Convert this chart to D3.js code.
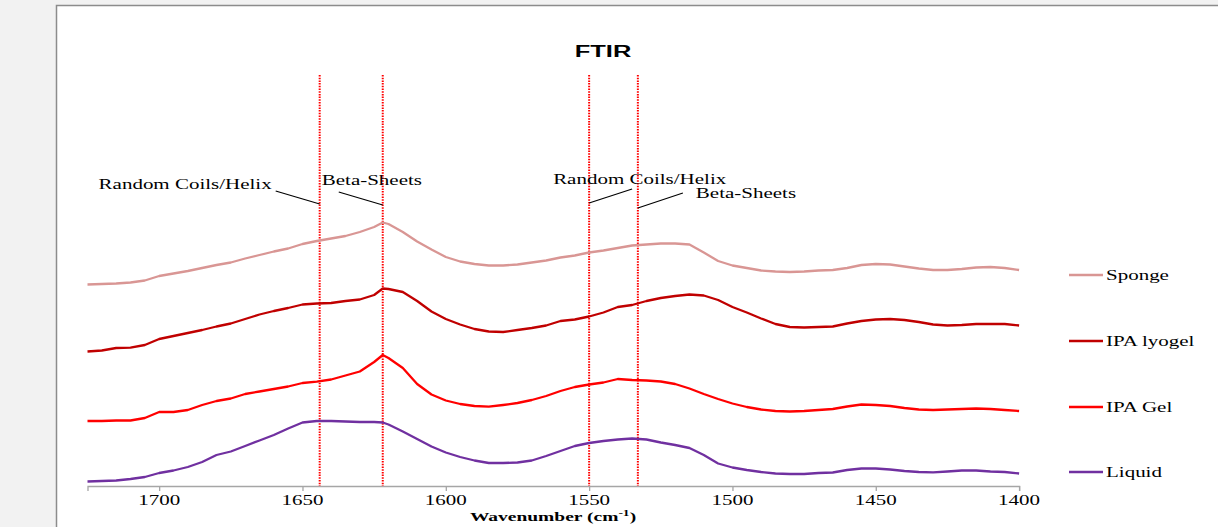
<!DOCTYPE html>
<html>
<head>
<meta charset="utf-8">
<script src="https://cdn.jsdelivr.net/npm/d3@7"></script>
<style>
  body { margin: 0; background: #f2f2f2; }
  svg { display: block; }
</style>
</head>
<body>
<svg id="chart"></svg>
<script>
// wavenumber grid (cm-1)
var wavenumbers = [1725,1720,1715,1710,1705,1700,1695,1690,1685,1680,1675,1670,1665,1660,1655,1650,1645,1640,1635,1630,1625,1622,1620,1615,1610,1605,1600,1595,1590,1585,1580,1575,1570,1565,1560,1555,1550,1545,1540,1535,1530,1525,1520,1515,1510,1505,1500,1495,1490,1485,1480,1475,1470,1465,1460,1455,1450,1445,1440,1435,1430,1425,1420,1415,1410,1405,1400];

// offset absorbance (a.u. x100), one value per wavenumber
var sponge = [201.5,202,202.5,203.5,205.5,210,212.5,215,218,221,223.5,227.5,231,234.5,237.5,242,245,247.5,250,254,259,263.5,262,254,244.5,236.5,229,224.5,222,220.5,220.5,221.5,223.5,225.5,228.5,230.5,233.5,235.5,238,240.5,241.5,242.5,242.5,241.5,233.5,225,220.5,218,215.5,214.5,214,214.5,215.5,216,218,221,222,221.5,219.5,217.5,216,216,217,218.5,219,218,216];
var ipaLyogel = [134.5,135.5,138,138.3,141,147,150,153,156,159.5,162.5,167,171.5,175,178,181.5,182.5,183,185,186.5,191,197.5,197,194,185,174.5,167,161.5,157,154.5,154,156,158,160.5,165,166.5,169.5,173.5,179,181,185,188,190,191.5,190.5,186,179,173.5,167.5,162,159,158.5,159,159.5,162.5,165,166.5,167,166,164,161.5,160.5,161,162,162,162,160.5];
var ipaGel = [65,65,65.5,65.5,68,74,74,76,81,85,87.5,92,94.5,97,99.5,103,104.3,106.5,110.5,114.5,124,131,128,118,102,91.5,85.5,82,80,79.3,81,83,86,90,95,99,101.5,103.5,107,106,105.5,104.5,102,97.5,92,87,82.5,79,76.5,75,74.5,75,76,77,79.5,81.5,81,80,78,76.5,76,76.5,77,77.5,77,76,75];
var liquid = [4.5,5,5.5,7,9,13,15.5,19,24,31,34.5,40,45.5,51,57.5,63.5,65,65,64.5,64,64,63.5,61.5,54.5,47,39.5,33.5,29,25.5,23,23,23.5,25.5,30,35,40,43,45,46.5,47.5,46.5,43.5,41,38,31,22.5,18.5,16,14,12.5,12,12,13,13.5,16,17.5,17.5,16.5,15,14,13.7,14.5,15.5,15.5,14.5,14,12.5];

var seriesNames = ["Sponge", "IPA lyogel", "IPA Gel", "Liquid"];
var seriesValues = [sponge, ipaLyogel, ipaGel, liquid];
var colors = ["#d99694", "#c00000", "#ff0000", "#7030a0"];
var xTicks = [1700, 1650, 1600, 1550, 1500, 1450, 1400];

// band markers and their labels
var markers = [1644, 1622, 1550, 1533];
var markerLabels = ["Random Coils/Helix", "Beta-Sheets", "Random Coils/Helix", "Beta-Sheets"];

var W = 1218, H = 527;
var margins = { top: 66, left: 87.5, bottom: 41, right: 198.9 };
var stretch = 1.5; // text in the picture is drawn wide

var svg = d3.select("#chart").attr("width", W).attr("height", H);

// white chart area with grey frame
svg.append("rect")
  .attr("x", 56.5).attr("y", 5.5)
  .attr("width", 1300).attr("height", 600)
  .attr("fill", "#ffffff").attr("stroke", "#8c8c8c").attr("stroke-width", 1.5);

var xScale = d3.scaleLinear().domain([1725, 1400]).range([margins.left, W - margins.right]);
var yScale = d3.scaleLinear().domain([0, 420]).range([H - margins.bottom, margins.top]);

// wide text helper
function wideText(parent, x, y, str, size, weight, anchor, family) {
  return parent.append("g")
    .attr("transform", "translate(" + x + "," + y + ") scale(" + stretch + ",1)")
    .append("text")
    .attr("font-family", family || "'Liberation Serif', 'Times New Roman', serif")
    .attr("font-size", size)
    .attr("font-weight", weight || "normal")
    .attr("text-anchor", anchor || "start")
    .attr("fill", "#000")
    .text(str);
}

// x axis
var xAxis = d3.axisBottom(xScale).tickValues(xTicks).tickSize(5).tickFormat("");
var axisG = svg.append("g").attr("transform", "translate(0," + yScale(0) + ")").call(xAxis);
axisG.select(".domain").attr("stroke", "#a6a6a6").attr("stroke-width", 1.3);
axisG.selectAll(".tick line").attr("stroke", "#a6a6a6").attr("stroke-width", 1.3);
xTicks.forEach(function(t) {
  wideText(svg, xScale(t), 505, String(t), 14, "normal", "middle");
});

// axis title with superscript
var titleX = wideText(svg, 553, 521, "Wavenumber (cm", 13, "bold", "middle");
titleX.append("tspan").attr("font-size", 9).attr("dy", -5).text("-1");
titleX.append("tspan").attr("dy", 5).text(")");

// chart title
wideText(svg, 603, 57, "FTIR", 17, "bold", "middle", "'Liberation Sans', Arial, sans-serif");

// dotted band markers
svg.append("g").selectAll("line").data(markers).enter().append("line")
  .attr("x1", function(d) { return xScale(d); })
  .attr("x2", function(d) { return xScale(d); })
  .attr("y1", 75).attr("y2", yScale(0))
  .attr("stroke", "#ff0000").attr("stroke-width", 2)
  .attr("stroke-dasharray", "1.5,1.2");

// annotation labels + leader lines
var noteG = svg.append("g");
var leaders = [
  { dx1: -44, y1: 191, y2: 204, tx: -48, ty: 189, anchor: "end" },
  { dx1: -44, y1: 192, y2: 205, tx: -61, ty: 185, anchor: "start" },
  { dx1: 43, y1: 189, y2: 203, tx: -36, ty: 184, anchor: "start" },
  { dx1: 45, y1: 193, y2: 208, tx: 58, ty: 198, anchor: "start" }
];
markers.forEach(function(m, i) {
  var l = leaders[i];
  var mx = xScale(m);
  noteG.append("line")
    .attr("x1", mx + l.dx1).attr("y1", l.y1)
    .attr("x2", mx).attr("y2", l.y2)
    .attr("stroke", "#000").attr("stroke-width", 1.2);
  wideText(noteG, mx + l.tx, l.ty, markerLabels[i], 14, "normal", l.anchor);
});

// spectra
var line = d3.line()
  .x(function(d) { return xScale(d[0]); })
  .y(function(d) { return yScale(d[1]); });

seriesValues.forEach(function(vals, i) {
  var pts = wavenumbers.map(function(w, j) { return [w, vals[j]]; });
  svg.append("path")
    .attr("d", line(pts))
    .attr("fill", "none")
    .attr("stroke", colors[i])
    .attr("stroke-width", 2.3)
    .attr("stroke-linejoin", "round");
});

// legend
var legendY = [275, 341, 407, 472];
var legend = svg.append("g");
seriesNames.forEach(function(name, i) {
  legend.append("line")
    .attr("x1", 1069).attr("x2", 1103)
    .attr("y1", legendY[i]).attr("y2", legendY[i])
    .attr("stroke", colors[i]).attr("stroke-width", 2.3);
  wideText(legend, 1106, legendY[i] + 5, name, 14);
});
</script>
</body>
</html>
